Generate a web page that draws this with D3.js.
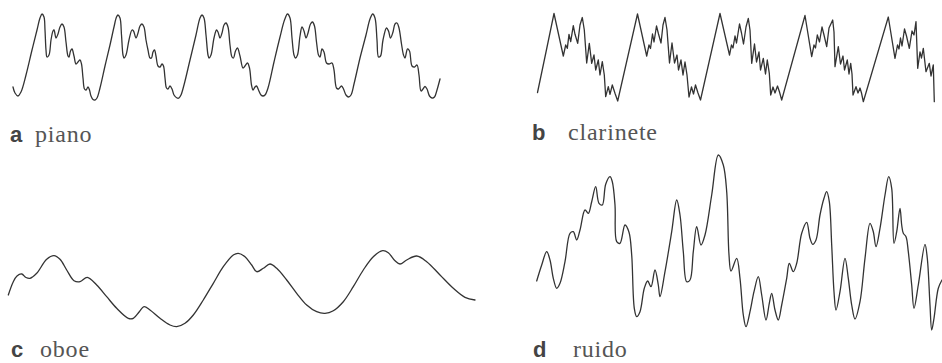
<!DOCTYPE html>
<html><head><meta charset="utf-8">
<script src="https://cdn.jsdelivr.net/npm/d3@7"></script>
<style>html,body{margin:0;padding:0;background:#fff;}svg{display:block;}</style>
</head><body>
<svg id="chart" width="942" height="363"></svg>
<script>
// ---- DATA (time in arbitrary samples, amplitude in arbitrary units) ----
const panelLetters = ["a", "b", "c", "d"];
const panelNames = ["piano", "clarinete", "oboe", "ruido"];

const pianoWave = [[0,13],[2,7],[5,4],[8,8],[13,25],[19,50],[24,70],[27,82],[29,86],[31,83],[32,70],[33,50],[34,43],[36,45],[38,60],[40,69],[41,70],[43,62],[45,66],[47,73],[49,76],[51,73],[53,58],[55,44],[56,43],[57.5,49],[59,51],[61,44],[63,36],[65,38],[67,40],[68.5,36],[70,22],[71.5,11],[73,10],[75,13],[76.5,10],[78,4],[80,0.5],[82,0],[84,2],[87,12],[92,34],[97,55],[101,73],[103.5,83],[105,85],[107,82],[108.5,65],[110,45],[111,42],[113,45],[116,60],[119,70],[120.5,69],[123,62],[125,67],[127,74],[129,76],[131,73],[133,60],[135,50],[137,42],[138.5,42],[140,48],[141.5,50],[143,44],[145,34],[147,33],[149,36],[150.5,34],[152,22],[153.5,12],[155,11],[157,14],[159,11],[161,5],[164,2],[166,2],[168,5],[171,15],[177,40],[183,65],[187,82],[189,85],[191,82],[193,65],[195,45],[196,42],[198,45],[201,62],[203.5,70],[205,68],[207,62],[209,67],[211,75],[213,77],[215,73],[217,55],[219,43],[220.5,42],[222.5,49],[224.5,52],[227,44],[230,32],[232,34],[234.5,37],[236.5,32],[238.5,15],[240,10],[242,13],[243.5,14],[245.5,10],[248,5],[250,4],[252,5],[255,12],[261,38],[267,63],[271.5,80],[274.5,86],[277,82],[279,62],[281,45],[282.5,42],[284.5,45],[287,64],[289,73],[291,69],[293,62],[295,67],[297.5,76],[299.5,78],[301.5,74],[303.5,58],[305.5,45],[307,43],[309,51],[311,48],[313.5,37],[316,36],[319,37],[321,30],[323.5,12],[325.5,11],[328.5,14],[330.5,11],[333,5],[335.5,3],[338,5],[341,16],[347,42],[353,65],[357,81],[359.7,86],[362,82],[364,60],[365.5,43],[367.5,44],[370,60],[373.5,72],[375.5,69],[377.5,62],[380,68],[382,76],[384,77],[386,72],[388.5,56],[390.5,45],[392,42],[394.5,51],[396.5,49],[399,34],[401.5,33],[404,35],[406,25],[408,9],[410,11],[412,13.5],[414,11],[416.5,4],[419,2],[421.5,3],[424,10],[427,21]];

const clarineteWave = [[0.5,9.5],[9,50],[17,88.5],[26.3,46],[28.7,57],[30.3,53.7],[32,67.7],[33.7,60.3],[36.3,76.3],[38,67.7],[40.7,58.7],[43,77],[45.3,84.5],[47.3,72],[49.7,39],[52.3,58.7],[54.7,38.7],[57,47],[58.7,32],[61.3,42],[63,27],[65.3,40.3],[67.3,27],[68.7,5.3],[71.3,15.3],[73,7.7],[75.3,17],[78,8.7],[80.7,1],
[100.5,88],[109.7,46],[112,57],[113.5,53.5],[115.5,68],[117,60],[119.5,76],[121.5,68],[124,59],[126,77],[128,84.5],[130,72],[132.5,39],[135,59],[137.5,39],[140,47],[141.5,32],[144,42],[146,27],[148,40],[150,27],[152,5],[154.5,15],[156.5,8],[158.5,17],[161,9],[163.5,2],
[183,88.5],[192.5,47],[194.5,57],[196,54],[198,66],[199.5,59],[202.5,78],[204.5,69],[206.5,58],[209,75],[211.3,83.7],[213,72],[214.7,38.7],[217.5,58],[219.5,40],[222,50],[223.5,32],[226.3,43.7],[228.5,28],[230.3,42],[232.3,28.7],[233.7,7],[236,15],[238,9],[240.5,16],[242.5,10],[244.7,2],
[268,86.5],[274.7,45.3],[277,57],[278.5,54],[280.3,67],[282.5,60],[285,75],[287,67],[289.7,55.3],[292,74],[295.7,82],[297,70],[298,35.3],[301.3,55.3],[303.5,38],[306,46],[307.5,32],[310.3,42],[312,28],[313.7,38.7],[315,28],[316,7],[319,15.3],[321,9],[323,14],[324.5,9],[326.3,0.3],
[351.3,85],[358,43.7],[360.5,57],[362,53],[363.5,64],[365,56],[367.5,73],[369.5,66],[372.3,53.7],[375,71],[377,67],[379,80.3],[380.7,33.7],[383,50],[384.5,44],[386.3,53.7],[389,30.3],[392.3,38.7],[394,26],[396.3,37],[397.3,0.3]];

const oboeWave = [[0.3,35],[5.3,48.3],[9,54],[13.7,56],[18,52.5],[22,51.7],[28.7,56.7],[38.7,70.7],[46,74.3],[52,70.7],[58.7,60],[66,49.3],[72,48.3],[79.3,52.7],[88.7,45],[98.7,33.3],[108.7,21.7],[120.3,11.7],[125.3,11.7],[131.3,18.3],[136,23.3],[142,20],[152,11.7],[162,5],[168.7,3.3],[177,6.7],[185.3,15],[195.3,30],[205.3,46.7],[215.3,63.3],[225.3,75],[230.3,76.7],[237,73.3],[243.7,65],[248.7,58.3],[255.3,61.7],[262,66],[268.7,61.7],[278.7,50],[288.7,36.7],[298.7,25],[308.7,18.3],[317,16.7],[325.3,19.3],[335.3,28.3],[345.3,43.3],[355.3,60],[365.3,73.3],[374.7,79.3],[380.3,77.3],[387,69.3],[392,66],[398.7,70],[408.7,74],[418.7,68.3],[432,55],[445.3,41.7],[457,32.7],[467,30]];

const ruidoWave = [[0.7,51],[5.7,67],[10.7,80.3],[14,72],[17.3,53.7],[20.7,43.7],[24,48.7],[29,70.3],[34,98.7],[37.3,100.3],[40.7,92],[44,102],[49,122],[52.3,118.7],[55.7,130.3],[59.7,145.3],[63,128.7],[66.3,127],[69.7,147.7],[74,155.3],[76.3,150.3],[79,127],[80.7,90.3],[84,88.7],[89,107],[93,99.7],[95.7,77],[98.3,23.7],[100.7,15.3],[104,20.3],[108.3,43.7],[111.7,51],[115,45.3],[119,62],[122.3,47],[124,35.3],[129,60.3],[135.7,100.3],[140.7,132],[144,117],[147.3,80.3],[150.7,50.3],[154,52],[157.3,80.3],[160.7,105.3],[165,87],[169,97],[175.7,137],[182.3,177],[187.3,167],[190.7,140.3],[193,77],[195,61],[200.7,73.7],[204,53.7],[207.3,17],[210,5.3],[214,20.3],[218,40.3],[222.3,55.3],[225.7,37],[230,12],[233.3,28.7],[235.7,38.7],[239,22],[242.3,12],[245.7,27],[250.7,53.7],[253.3,68.7],[257.3,60.3],[260.7,68.7],[265.7,98.7],[270.7,109.7],[274,93.7],[276.7,87.7],[280,92],[284,117],[288,133.7],[290.7,140.3],[293.3,130.3],[295.7,87],[298,40.3],[300,22],[304,40.3],[309,73.7],[312.3,53.7],[315.7,27],[319,13],[324,30.3],[329,73.7],[334,108.7],[337.3,100.3],[340,85.3],[344,103.7],[349,137],[352.7,155.3],[355.7,143.7],[358,88.7],[360.7,100.3],[364,123.7],[365.7,107],[367.3,98.7],[370,95.3],[372.3,80.3],[375.7,47],[378,23.7],[382.3,47],[389,87.7],[391.3,73.7],[394,27],[395.7,2],[398,13.7],[402.3,43.7],[406,52]];

const waves = [pianoWave, clarineteWave, oboeWave, ruidoWave];

// ---- LAYOUT ----
const layout = [
  {x0: 13,  w: 430, y0: 100, h: 86,  curve: d3.curveCatmullRom.alpha(0.5), lx: 10,  wx: 35,  ly: 142},
  {x0: 537, w: 400, y0: 102, h: 88,  curve: d3.curveLinear,                lx: 532, wx: 568, ly: 140},
  {x0: 8,   w: 470, y0: 330, h: 80,  curve: d3.curveCatmullRom.alpha(0.5), lx: 11,  wx: 40,  ly: 357},
  {x0: 536, w: 406, y0: 332, h: 180, curve: d3.curveCatmullRom.alpha(0.5), lx: 533, wx: 573, ly: 357}
];

const svg = d3.select("#chart");

layout.forEach((L, i) => {
  const x = d3.scaleLinear().domain([0, L.w]).range([L.x0, L.x0 + L.w]);
  const y = d3.scaleLinear().domain([0, L.h]).range([L.y0, L.y0 - L.h]);
  const line = d3.line().x(d => x(d[0])).y(d => y(d[1])).curve(L.curve);
  svg.append("path")
    .datum(waves[i])
    .attr("d", line)
    .attr("fill", "none")
    .attr("stroke", "#333")
    .attr("stroke-width", 1.3)
    .attr("stroke-linejoin", "round")
    .attr("stroke-linecap", "round");

  svg.append("text")
    .attr("x", L.lx).attr("y", L.ly)
    .attr("font-family", "Liberation Sans, Arial, sans-serif")
    .attr("font-weight", "bold")
    .attr("font-size", 22)
    .attr("fill", "#444")
    .text(panelLetters[i]);
  svg.append("text")
    .attr("x", L.wx).attr("y", L.ly)
    .attr("font-family", "Liberation Serif, Times New Roman, serif")
    .attr("font-size", 24)
    .attr("letter-spacing", 0.8)
    .attr("fill", "#555")
    .text(panelNames[i]);
});
</script>
</body></html>
